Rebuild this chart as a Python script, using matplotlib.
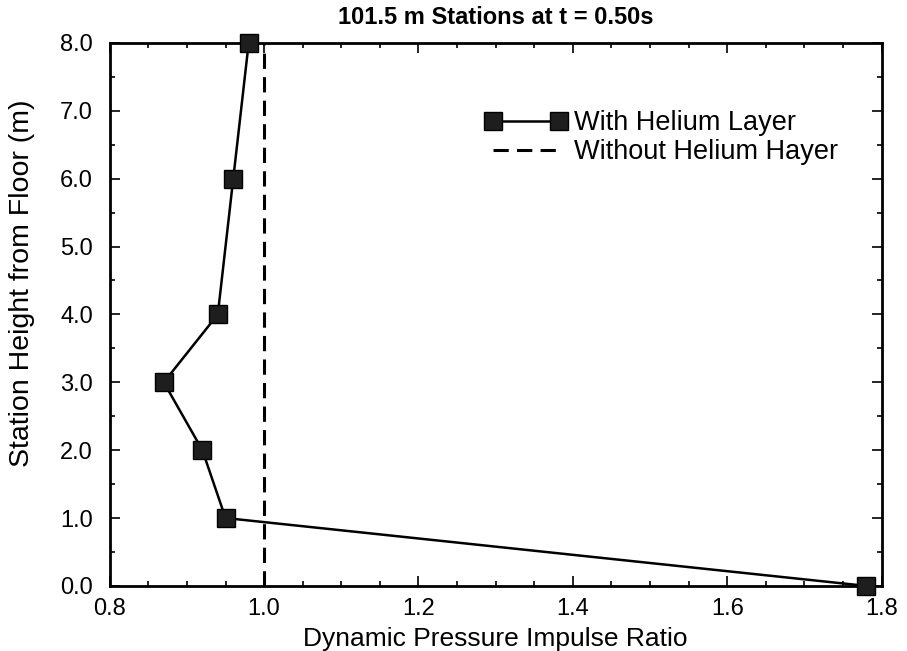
import matplotlib.pyplot as plt
from matplotlib.ticker import MultipleLocator

# data
height = [8.0, 6.0, 4.0, 3.0, 2.0, 1.0, 0.0]
ratio_helium = [0.98, 0.96, 0.94, 0.87, 0.92, 0.95, 1.78]
ratio_no_helium = [1.0, 1.0]
height_no_helium = [0.0, 8.0]

x_ticks = [0.8, 1.0, 1.2, 1.4, 1.6, 1.8]
y_ticks = [0.0, 1.0, 2.0, 3.0, 4.0, 5.0, 6.0, 7.0, 8.0]

plt.rcParams['font.family'] = ['Liberation Sans', 'DejaVu Sans']

fig = plt.figure(figsize=(9.07, 6.51), dpi=100)
ax = fig.add_axes([0.121, 0.1, 0.851, 0.834])

ax.plot(ratio_helium, height, color='black', lw=1.8, marker='s', markersize=13,
        markerfacecolor='#1e1e1e', markeredgecolor='black', clip_on=False, zorder=3,
        label='With Helium Layer')
ax.plot(ratio_no_helium, height_no_helium, color='black', lw=2.2, ls=(0, (5, 2.7)),
        label='Without Helium Hayer')

ax.set_xlim(0.8, 1.8)
ax.set_ylim(0.0, 8.0)
ax.set_xticks(x_ticks)
ax.set_yticks(y_ticks)
ax.set_xticklabels([f'{v:.1f}' for v in x_ticks])
ax.set_yticklabels([f'{v:.1f}' for v in y_ticks])
ax.xaxis.set_minor_locator(MultipleLocator(0.05))
ax.yaxis.set_minor_locator(MultipleLocator(0.5))
ax.tick_params(which='both', direction='in', top=True, right=True, labelsize=17, width=1.2)
ax.tick_params(which='major', length=7)
ax.tick_params(which='minor', length=3.5)
ax.tick_params(axis='x', pad=9)
ax.tick_params(axis='y', pad=12)
for s in ax.spines.values():
    s.set_linewidth(2.0)

ax.set_xlabel('Dynamic Pressure Impulse Ratio', fontsize=19, labelpad=5)
ax.set_ylabel('Station Height from Floor (m)', fontsize=20.5)
ax.yaxis.set_label_coords(-0.097, 0.558)
ax.set_title('101.5 m Stations at t = 0.50s', fontsize=17, fontweight='bold', pad=14)

ax.legend(loc='upper left', bbox_to_anchor=(485 / 907, 1 - 110 / 651), bbox_transform=fig.transFigure,
          frameon=False, fontsize=19.5, numpoints=2, handlelength=3.03, handletextpad=0.27,
          labelspacing=0.12, borderaxespad=0, borderpad=0)

fig.savefig('out.png', dpi=100)
